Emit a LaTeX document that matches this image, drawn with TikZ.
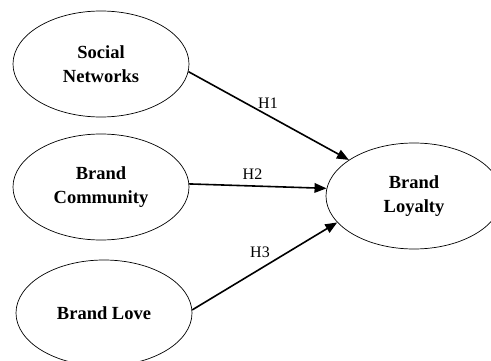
\documentclass[tikz,border=0pt]{standalone}
\usepackage{fontspec}
\setmainfont{Liberation Serif}
\usetikzlibrary{arrows.meta,shapes.geometric}
\tikzset{
  construct/.style={draw, ellipse, line width=0.7pt,
                    minimum width=176pt, minimum height=106pt,
                    inner sep=0pt, align=center,
                    font=\fontsize{18.5}{24}\selectfont\bfseries},
  hyplabel/.style ={font=\fontsize{16}{19}\selectfont, inner sep=0pt},
  arr/.style      ={-{Triangle[length=12pt,width=9.5pt]}, line width=1.6pt},
}

\begin{document}
\begin{tikzpicture}[x=1pt, y=-1pt]
  \path[use as bounding box, clip] (0,0) rectangle (491,361);
  % constructs
  \node[construct] (sn)  at (101,64)  {Social\\Networks};
  \node[construct] (bc)  at (101,187) {Brand\\Community};
  \node[construct] (bl)  at (104,313) {Brand Love};
  \node[construct] (loy) at (414,196) {Brand\\Loyalty};
  % hypotheses
  \draw[arr] (sn.-5) -- (loy.151);
  \draw[arr] (bc.2)  -- (loy.175);
  \draw[arr] (bl.2)  -- (loy.199);
  \node[hyplabel] (h1) at (268,103.5) {H1};
  \node[hyplabel] (h2) at (252.5,174.5) {H2};
  \node[hyplabel] (h3) at (260,252) {H3};
\end{tikzpicture}
\end{document}
